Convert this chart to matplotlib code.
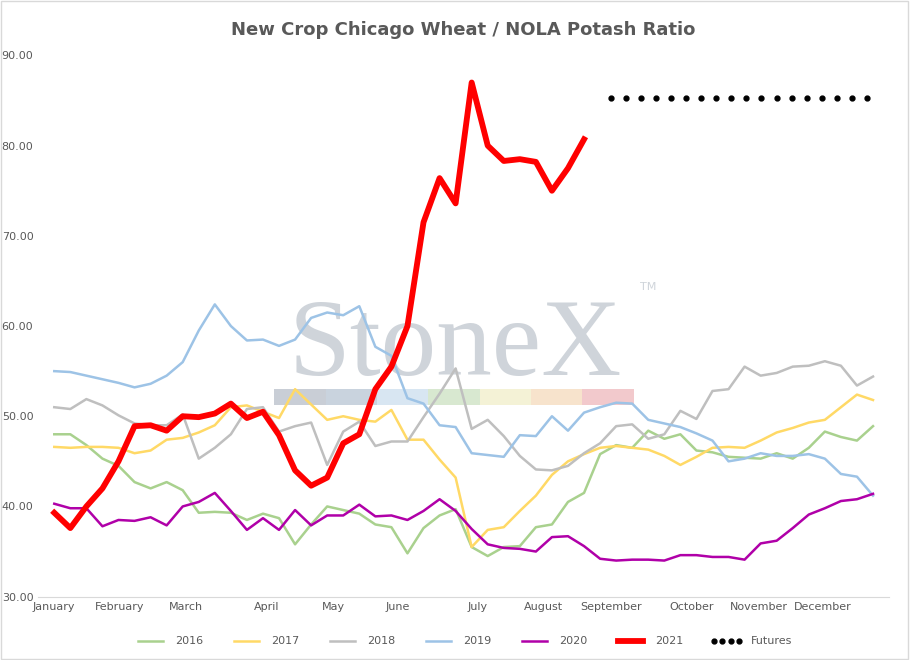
import numpy as np
import matplotlib.pyplot as plt

months = ["January", "February", "March", "April", "May", "June", "July",
          "August", "September", "October", "November", "December"]
month_pos = [0, 4.06, 8.2, 13.25, 17.4, 21.4, 26.4, 30.5, 34.7, 39.7, 43.9, 47.9]

y2016 = [48, 48, 46.8, 45.3, 44.5, 42.7, 42, 42.7, 41.8, 39.3, 39.4, 39.3, 38.5, 39.2, 38.7, 35.8,
         38, 40, 39.6, 39.2, 38, 37.7, 34.8, 37.6, 39, 39.7, 35.5, 34.5, 35.5, 35.6, 37.7, 38,
         40.5, 41.5, 45.8, 46.8, 46.5, 48.4, 47.5, 48, 46.2, 46, 45.5, 45.4, 45.3, 45.9, 45.3,
         46.5, 48.3, 47.7, 47.3, 48.9]
y2017 = [46.6, 46.5, 46.6, 46.6, 46.5, 45.9, 46.2, 47.4, 47.6, 48.2, 49, 51, 51.2, 50.5, 49.8, 53,
         51.3, 49.6, 50, 49.6, 49.4, 50.7, 47.4, 47.4, 45.2, 43.2, 35.5, 37.4, 37.7, 39.5, 41.2,
         43.5, 45, 45.8, 46.5, 46.7, 46.5, 46.3, 45.6, 44.6, 45.5, 46.5, 46.6, 46.5, 47.3, 48.2,
         48.7, 49.3, 49.6, 51, 52.4, 51.8]
y2018 = [51, 50.8, 51.9, 51.2, 50.1, 49.2, 49, 49, 50.2, 45.3, 46.5, 48, 50.8, 51, 48.3, 48.9,
         49.3, 44.6, 48.3, 49.4, 46.7, 47.2, 47.2, 49.9, 52.5, 55.3, 48.6, 49.6, 47.8, 45.6, 44.1,
         44, 44.5, 45.9, 47, 48.9, 49.1, 47.5, 48, 50.6, 49.7, 52.8, 53, 55.5, 54.5, 54.8, 55.5,
         55.6, 56.1, 55.6, 53.4, 54.4]
y2019 = [55, 54.9, 54.5, 54.1, 53.7, 53.2, 53.6, 54.5, 56, 59.5, 62.4, 60, 58.4, 58.5, 57.8, 58.5,
         60.9, 61.5, 61.2, 62.2, 57.7, 56.7, 52, 51.4, 49, 48.8, 45.9, 45.7, 45.5, 47.9, 47.8, 50,
         48.4, 50.4, 51, 51.5, 51.4, 49.6, 49.2, 48.8, 48.1, 47.3, 45, 45.3, 45.9, 45.6, 45.6,
         45.8, 45.3, 43.6, 43.3, 41.2]
y2020 = [40.3, 39.8, 39.8, 37.8, 38.5, 38.4, 38.8, 37.9, 40, 40.5, 41.5, 39.5, 37.4, 38.7, 37.4,
         39.6, 37.9, 39, 39, 40.2, 38.9, 39, 38.5, 39.5, 40.8, 39.5, 37.5, 35.8, 35.4, 35.3, 35,
         36.6, 36.7, 35.6, 34.2, 34, 34.1, 34.1, 34, 34.6, 34.6, 34.4, 34.4, 34.1, 35.9, 36.2,
         37.6, 39.1, 39.8, 40.6, 40.8, 41.4]
y2021 = [39.3, 37.6, 40, 42, 45, 48.9, 49, 48.4, 50, 49.9, 50.3, 51.4, 49.8, 50.5, 47.9, 44,
         42.3, 43.2, 47, 48, 53, 55.5, 60, 71.5, 76.4, 73.6, 87, 80, 78.3, 78.5, 78.2, 75, 77.5, 80.7]
futures = [85.3] * 18
futures_x = np.linspace(34.7, 50.6, 18)

series = [("2016", y2016, "#a9d18e", 1.8), ("2017", y2017, "#ffd966", 1.8),
          ("2018", y2018, "#bfbfbf", 1.8), ("2019", y2019, "#9dc3e6", 1.8),
          ("2020", y2020, "#b000a8", 1.8), ("2021", y2021, "#ff0000", 4.2)]

fig = plt.figure(figsize=(9.1, 6.6), dpi=100)
ax = fig.add_axes([0.042, 0.096, 0.935, 0.82])

# watermark
ax.text(25.0, 57.5, "StoneX", fontsize=80, color="#cfd4da", family="Liberation Serif",
        ha="center", va="center", zorder=0)
ax.text(36.5, 64, "TM", fontsize=8, color="#cfd4da", zorder=0)
band = ["#c9ced6", "#c9d3de", "#d8e6f2", "#d8e8d0", "#f4f2d6", "#f7e3cc", "#f2c9cc"]
for k, c in enumerate(band):
    ax.axvspan(13.7 + k * 3.2, 13.7 + (k + 1) * 3.2, ymin=(51.2 - 30) / 60, ymax=(53 - 30) / 60,
               color=c, lw=0, zorder=0)

for name, vals, col, lw in series:
    ax.plot(np.arange(len(vals)), vals, color=col, lw=lw, label=name,
            solid_joinstyle="round", zorder=3 if name == "2021" else 2)
ax.plot(futures_x, futures, color="black", ls="none", marker="o", ms=3.5, label="Futures")

ax.set_xlim(-1, 52)
ax.set_ylim(30, 90)
ax.set_yticks(np.arange(30, 91, 10))
ax.set_yticklabels([f"{v:.2f}" for v in range(30, 91, 10)], fontsize=8, color="#595959")
ax.set_xticks(month_pos)
ax.set_xticklabels(months, fontsize=8, color="#595959")
ax.tick_params(length=0)
for s in ["top", "right", "left"]:
    ax.spines[s].set_visible(False)
ax.spines["bottom"].set_color("#d9d9d9")

ax.set_title("New Crop Chicago Wheat / NOLA Potash Ratio", fontsize=13, color="#595959",
             fontweight="semibold", pad=15)
leg = ax.legend(loc="upper center", bbox_to_anchor=(0.5, -0.055), ncol=7, frameon=False,
                fontsize=8, handlelength=2.8, columnspacing=2.5, numpoints=4)
for t in leg.get_texts():
    t.set_color("#595959")

fig.patches.append(plt.Rectangle((0.001, 0.001), 0.997, 0.997, transform=fig.transFigure,
                                 fill=False, ec="#d9d9d9", lw=1))
fig.savefig("out.png", dpi=100)
